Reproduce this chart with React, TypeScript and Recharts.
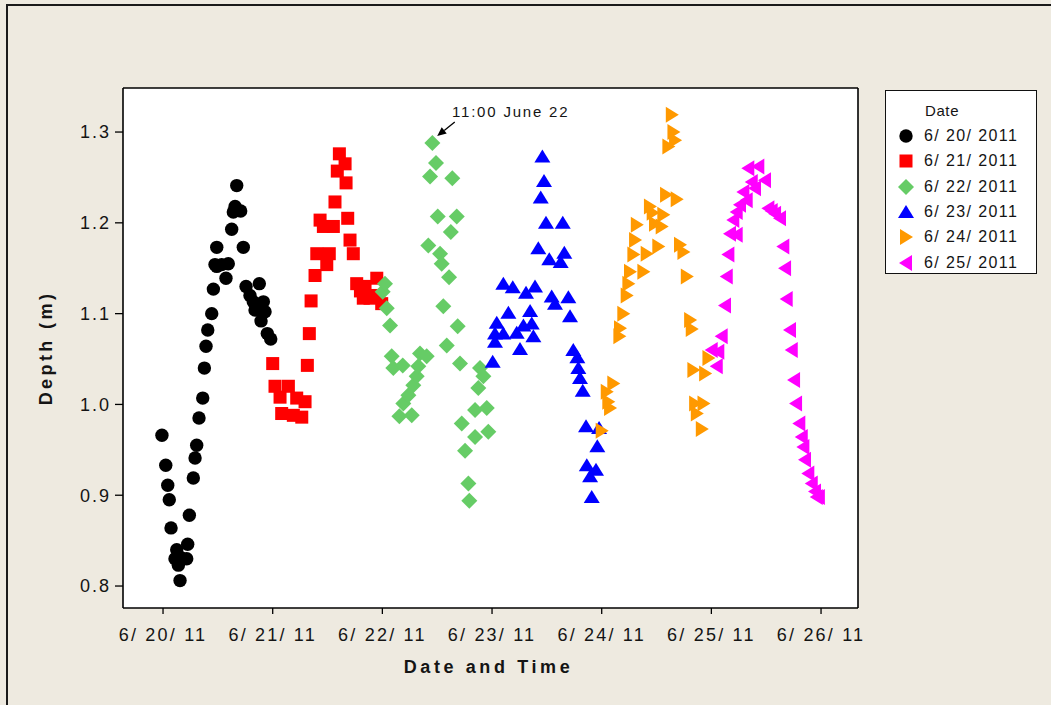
import React from 'react';
import {
  ScatterChart,
  Scatter,
  XAxis,
  YAxis,
  CartesianGrid,
  ReferenceLine,
  ReferenceDot,
  Label,
} from 'recharts';

// x = day of June 2011 (fractional), y = depth in metres
const dayTicks = [20, 21, 22, 23, 24, 25, 26];
const depthTicks = [0.8, 0.9, 1.0, 1.1, 1.2, 1.3];

const june20: [number, number][] = [
  [19.99, 0.966], [20.025, 0.933], [20.043, 0.911], [20.057, 0.895], [20.073, 0.864],
  [20.109, 0.83], [20.125, 0.84], [20.14, 0.823], [20.155, 0.832], [20.155, 0.806],
  [20.216, 0.83], [20.225, 0.846], [20.24, 0.878], [20.276, 0.919], [20.292, 0.941],
  [20.307, 0.955], [20.328, 0.985], [20.362, 1.007], [20.377, 1.04], [20.392, 1.064],
  [20.408, 1.082], [20.444, 1.1], [20.459, 1.127], [20.474, 1.154], [20.49, 1.152],
  [20.49, 1.173], [20.535, 1.154], [20.574, 1.139], [20.595, 1.155], [20.626, 1.193],
  [20.641, 1.212], [20.657, 1.218], [20.672, 1.241], [20.708, 1.213], [20.732, 1.173],
  [20.757, 1.13], [20.793, 1.12], [20.823, 1.113], [20.839, 1.104], [20.878, 1.133],
  [20.884, 1.106], [20.894, 1.092], [20.915, 1.113], [20.93, 1.102], [20.951, 1.078],
  [20.982, 1.072],
];

const june21: [number, number][] = [
  [21.0, 1.045], [21.021, 1.02], [21.067, 1.008], [21.082, 0.99], [21.143, 1.02],
  [21.188, 0.988], [21.219, 1.007], [21.265, 0.986], [21.295, 1.003], [21.316, 1.043],
  [21.334, 1.078], [21.35, 1.114], [21.386, 1.142], [21.402, 1.166], [21.432, 1.203],
  [21.462, 1.196], [21.493, 1.154], [21.516, 1.166], [21.553, 1.196], [21.568, 1.223],
  [21.589, 1.257], [21.608, 1.276], [21.66, 1.265], [21.669, 1.244], [21.684, 1.205],
  [21.705, 1.181], [21.735, 1.166], [21.766, 1.133], [21.8, 1.125], [21.826, 1.117],
  [21.842, 1.13], [21.887, 1.117], [21.949, 1.139], [21.949, 1.12], [21.994, 1.111],
];

const june22: [number, number][] = [
  [22.003, 1.124], [22.024, 1.133], [22.04, 1.106], [22.07, 1.087], [22.085, 1.053],
  [22.1, 1.04], [22.155, 0.987], [22.186, 1.043], [22.191, 1.001], [22.237, 1.01],
  [22.268, 0.988], [22.282, 1.021], [22.313, 1.031], [22.328, 1.042], [22.343, 1.056],
  [22.404, 1.053], [22.419, 1.175], [22.435, 1.251], [22.456, 1.288], [22.489, 1.266],
  [22.505, 1.207], [22.526, 1.166], [22.541, 1.155], [22.556, 1.108], [22.587, 1.065],
  [22.608, 1.14], [22.624, 1.19], [22.638, 1.249], [22.678, 1.207], [22.687, 1.086],
  [22.708, 1.045], [22.724, 0.979], [22.754, 0.949], [22.784, 0.913], [22.793, 0.894],
  [22.845, 0.994], [22.845, 0.964], [22.875, 1.018], [22.89, 1.04], [22.921, 1.031],
  [22.952, 0.996], [22.966, 0.97],
];

const june23: [number, number][] = [
  [23.006, 1.047], [23.027, 1.069], [23.027, 1.078], [23.043, 1.09], [23.103, 1.078],
  [23.103, 1.133], [23.149, 1.101], [23.189, 1.129], [23.225, 1.079], [23.255, 1.061],
  [23.286, 1.087], [23.31, 1.123], [23.347, 1.103], [23.362, 1.089], [23.377, 1.075],
  [23.392, 1.13], [23.422, 1.172], [23.444, 1.228], [23.459, 1.273], [23.474, 1.246],
  [23.492, 1.2], [23.522, 1.16], [23.544, 1.119], [23.574, 1.111], [23.626, 1.157],
  [23.645, 1.2], [23.659, 1.167], [23.696, 1.118], [23.711, 1.097], [23.741, 1.06],
  [23.778, 1.052], [23.787, 1.04], [23.802, 1.029], [23.827, 1.015], [23.857, 0.976],
  [23.864, 0.933], [23.894, 0.921], [23.909, 0.898], [23.948, 0.928], [23.96, 0.954],
  [23.976, 0.974],
];

const june24: [number, number][] = [
  [24.0, 0.971], [24.046, 1.014], [24.06, 1.003], [24.076, 0.996], [24.106, 1.023],
  [24.161, 1.075], [24.167, 1.084], [24.197, 1.1], [24.228, 1.12], [24.243, 1.133],
  [24.258, 1.146], [24.289, 1.165], [24.304, 1.181], [24.32, 1.198], [24.38, 1.146],
  [24.41, 1.166], [24.44, 1.218], [24.465, 1.211], [24.486, 1.199], [24.516, 1.174],
  [24.547, 1.196], [24.562, 1.209], [24.587, 1.231], [24.608, 1.284], [24.639, 1.319],
  [24.654, 1.3], [24.669, 1.291], [24.684, 1.226], [24.714, 1.176], [24.745, 1.168],
  [24.776, 1.141], [24.806, 1.093], [24.821, 1.083], [24.836, 1.038], [24.852, 1.001],
  [24.867, 0.99], [24.913, 0.973], [24.928, 1.001], [24.943, 1.034], [24.973, 1.051],
];

const june25: [number, number][] = [
  [25.003, 1.06], [25.049, 1.042], [25.063, 1.058], [25.094, 1.075], [25.124, 1.109],
  [25.14, 1.141], [25.155, 1.165], [25.17, 1.188], [25.2, 1.203], [25.231, 1.187],
  [25.231, 1.212], [25.261, 1.22], [25.292, 1.234], [25.322, 1.225], [25.337, 1.26],
  [25.368, 1.245], [25.398, 1.238], [25.428, 1.262], [25.489, 1.247], [25.52, 1.216],
  [25.55, 1.213], [25.581, 1.21], [25.626, 1.205], [25.656, 1.174], [25.672, 1.15],
  [25.687, 1.116], [25.717, 1.082], [25.733, 1.06], [25.754, 1.027], [25.772, 1.001],
  [25.802, 0.979], [25.824, 0.964], [25.839, 0.953], [25.854, 0.939], [25.884, 0.924],
  [25.915, 0.913], [25.945, 0.904], [25.961, 0.898], [25.98, 0.898],
];

type Kind = 'circle' | 'square' | 'diamond' | 'up' | 'right' | 'left';

const SERIES: { name: string; data: [number, number][]; color: string; kind: Kind }[] = [
  { name: '6/ 20/ 2011', data: june20, color: '#000000', kind: 'circle' },
  { name: '6/ 21/ 2011', data: june21, color: '#FF0000', kind: 'square' },
  { name: '6/ 22/ 2011', data: june22, color: '#66CC66', kind: 'diamond' },
  { name: '6/ 23/ 2011', data: june23, color: '#0000FF', kind: 'up' },
  { name: '6/ 24/ 2011', data: june24, color: '#FF9900', kind: 'right' },
  { name: '6/ 25/ 2011', data: june25, color: '#FF00FF', kind: 'left' },
];

const X_DOMAIN: [number, number] = [19.635, 26.337];
const Y_DOMAIN: [number, number] = [0.7758, 1.3485];

const FONT = '"Liberation Sans", Arial, sans-serif';
const TEXT = '#141414';

function Marker({ cx, cy, fill, kind }: { cx: number; cy: number; fill: string; kind: Kind }) {
  if (cx == null || cy == null) return null;
  switch (kind) {
    case 'circle':
      return <circle cx={cx} cy={cy} r={6.7} fill={fill} />;
    case 'square':
      return <rect x={cx - 6.5} y={cy - 6.5} width={13} height={13} fill={fill} />;
    case 'diamond':
      return <polygon points={`${cx},${cy - 8} ${cx + 8},${cy} ${cx},${cy + 8} ${cx - 8},${cy}`} fill={fill} />;
    case 'up':
      return <polygon points={`${cx},${cy - 7} ${cx + 8},${cy + 6} ${cx - 8},${cy + 6}`} fill={fill} />;
    case 'right':
      return <polygon points={`${cx + 7},${cy} ${cx - 6},${cy - 8} ${cx - 6},${cy + 8}`} fill={fill} />;
    case 'left':
      return <polygon points={`${cx - 7},${cy} ${cx + 6},${cy - 8} ${cx + 6},${cy + 8}`} fill={fill} />;
  }
  return null;
}

function Arrow(props: any) {
  const { x1, y1, x2, y2 } = props;
  if (x1 == null) return null;
  const ang = Math.atan2(y2 - y1, x2 - x1);
  const L = 9;
  const W = 4;
  const bx = x2 - L * Math.cos(ang);
  const by = y2 - L * Math.sin(ang);
  const px = -Math.sin(ang) * W;
  const py = Math.cos(ang) * W;
  return (
    <g>
      <line x1={x1} y1={y1} x2={bx} y2={by} stroke="#000" strokeWidth={1.3} />
      <polygon points={`${x2},${y2} ${bx + px},${by + py} ${bx - px},${by - py}`} fill="#000" />
    </g>
  );
}

function LegendBox() {
  return (
    <div
      style={{
        position: 'absolute',
        left: 885,
        top: 90,
        width: 152,
        height: 184,
        background: '#fff',
        border: '1.5px solid #111',
        fontFamily: FONT,
        color: TEXT,
        boxSizing: 'border-box',
      }}
    >
      <div style={{ position: 'absolute', left: 39, top: 11, fontSize: 15, letterSpacing: 0.6 }}>Date</div>
      {SERIES.map((s, i) => (
        <div key={s.name} style={{ position: 'absolute', left: 0, top: 34 + i * 25.3, height: 22, width: 150 }}>
          <svg width={30} height={22} style={{ position: 'absolute', left: 6, top: 0 }}>
            <Marker cx={14} cy={11} fill={s.color} kind={s.kind} />
          </svg>
          <div style={{ position: 'absolute', left: 38, top: 2, fontSize: 16, letterSpacing: 1.4, whiteSpace: 'nowrap' }}>
            {s.name}
          </div>
        </div>
      ))}
    </div>
  );
}

export default function App() {
  return (
    <div style={{ position: 'relative', width: 1051, height: 705, background: '#EEEAE0', overflow: 'hidden' }}>
      <style>{'body{margin:0}'}</style>
      <div
        style={{
          position: 'absolute',
          left: 6,
          top: 4,
          right: -20,
          bottom: -20,
          borderTop: '2px solid #1a1a1a',
          borderLeft: '2px solid #1a1a1a',
        }}
      />
      <div style={{ position: 'absolute', left: 0, top: 0 }}>
        <ScatterChart
          width={1051}
          height={705}
          margin={{ top: 87, right: 192, bottom: 37, left: 63 }}
          style={{ fontFamily: FONT }}
        >
          <CartesianGrid fill="#ffffff" fillOpacity={1} horizontal={false} vertical={false} stroke="none" />
          <XAxis
            xAxisId="top"
            orientation="top"
            type="number"
            dataKey="x"
            domain={X_DOMAIN}
            allowDataOverflow
            height={1}
            tick={false}
            tickLine={false}
            axisLine={{ stroke: '#000', strokeWidth: 1.6 }}
          />
          <YAxis
            yAxisId="right"
            orientation="right"
            type="number"
            dataKey="y"
            domain={Y_DOMAIN}
            allowDataOverflow
            width={1}
            tick={false}
            tickLine={false}
            axisLine={{ stroke: '#000', strokeWidth: 1.6 }}
          />
          <XAxis
            type="number"
            dataKey="x"
            domain={X_DOMAIN}
            allowDataOverflow
            ticks={dayTicks}
            interval={0}
            height={60}
            tickFormatter={(v: number) => `6/ ${v}/ 11`}
            tick={{ fontSize: 18, fill: TEXT, letterSpacing: 2.2 }}
            tickSize={6}
            tickMargin={14}
            tickLine={{ stroke: '#000', strokeWidth: 1.3 }}
            axisLine={{ stroke: '#000', strokeWidth: 1.6 }}
          >
            <Label
              content={(p: any) => {
                const vb = p.viewBox || {};
                return (
                  <text
                    x={vb.x + vb.width / 2 - 2}
                    y={vb.y + 59}
                    textAnchor="middle"
                    dominantBaseline="central"
                    fontSize={18}
                    fontWeight="bold"
                    letterSpacing={3.6}
                    fill={TEXT}
                    fontFamily={FONT}
                  >
                    Date and Time
                  </text>
                );
              }}
            />
          </XAxis>
          <YAxis
            type="number"
            dataKey="y"
            domain={Y_DOMAIN}
            allowDataOverflow
            ticks={depthTicks}
            interval={0}
            width={60}
            tickFormatter={(v: number) => v.toFixed(1)}
            tick={{ fontSize: 18, fill: TEXT, letterSpacing: 2 }}
            tickSize={8}
            tickMargin={4}
            tickLine={{ stroke: '#000', strokeWidth: 1.3 }}
            axisLine={{ stroke: '#000', strokeWidth: 1.6 }}
          >
            <Label
              content={(p: any) => {
                const vb = p.viewBox || {};
                const cx = vb.x + vb.width - 77;
                const cy = vb.y + vb.height / 2;
                return (
                  <text
                    x={cx}
                    y={cy}
                    transform={`rotate(-90 ${cx} ${cy})`}
                    textAnchor="middle"
                    dominantBaseline="central"
                    fontSize={18}
                    fontWeight="bold"
                    letterSpacing={3.4}
                    fill={TEXT}
                    fontFamily={FONT}
                  >
                    Depth (m)
                  </text>
                );
              }}
            />
          </YAxis>

          {SERIES.map((s) => (
            <Scatter
              key={s.name}
              name={s.name}
              data={s.data.map(([x, y]) => ({ x, y }))}
              fill={s.color}
              isAnimationActive={false}
              shape={(p: any) => <Marker cx={p.cx} cy={p.cy} fill={s.color} kind={s.kind} />}
            />
          ))}

          <ReferenceLine
            segment={[{ x: 22.66, y: 1.311 }, { x: 22.5, y: 1.2955 }]}
            shape={Arrow}
            ifOverflow="visible"
          />
          <ReferenceDot
            x={23.17}
            y={1.322}
            r={0}
            fill="none"
            stroke="none"
            ifOverflow="visible"
            label={{ value: '11:00 June 22', position: 'center', fontSize: 15, fill: TEXT, letterSpacing: 1.8 }}
          />
        </ScatterChart>
      </div>
      <LegendBox />
    </div>
  );
}
